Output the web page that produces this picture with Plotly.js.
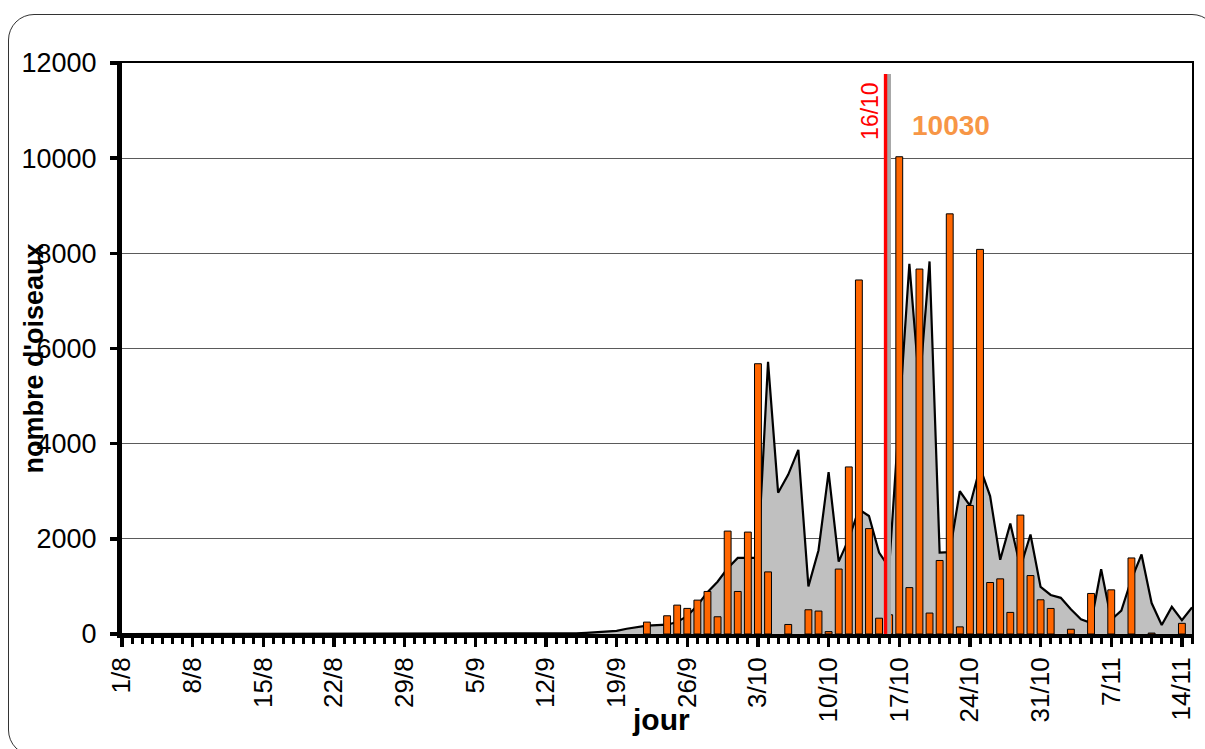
<!DOCTYPE html>
<html>
<head>
<meta charset="utf-8">
<script src="https://cdn.plot.ly/plotly-3.0.1.min.js"></script>
<style>
  html, body { margin: 0; padding: 0; background: #fff; overflow: hidden; }
  #wrap { position: relative; width: 1205px; height: 749px; overflow: hidden; }
  #frame { position: absolute; left: 8px; top: 14px; width: 1208px; height: 740px;
           border: 1.5px solid #333; border-radius: 26px; pointer-events: none; }
  #chart { position: absolute; left: 0; top: 0; width: 1205px; height: 749px; }
</style>
</head>
<body>
<div id="wrap">
  <div id="chart"></div>
  <div id="frame"></div>
</div>
<script>
// ---- data ----
const seasonStart = '2011-08-01';
const seasonEnd = '2011-11-15';
const weekTicks = ['1/8','8/8','15/8','22/8','29/8','5/9','12/9','19/9','26/9','3/10','10/10','17/10','24/10','31/10','7/11','14/11'];

// daily counts (bars)
const countDates = ['2011-09-22','2011-09-24','2011-09-25','2011-09-26','2011-09-27','2011-09-28','2011-09-29','2011-09-30',
  '2011-10-01','2011-10-02','2011-10-03','2011-10-04','2011-10-06','2011-10-08','2011-10-09','2011-10-10','2011-10-11',
  '2011-10-12','2011-10-13','2011-10-14','2011-10-15','2011-10-16','2011-10-17','2011-10-18','2011-10-19','2011-10-20',
  '2011-10-21','2011-10-22','2011-10-23','2011-10-24','2011-10-25','2011-10-26','2011-10-27','2011-10-28','2011-10-29',
  '2011-10-30','2011-10-31','2011-11-01','2011-11-03','2011-11-05','2011-11-07','2011-11-09','2011-11-11','2011-11-14'];
const countValues = [250, 383, 607, 538, 712, 894, 362, 2163,
  894, 2142, 5680, 1305, 200, 509, 482, 50, 1365,
  3511, 7440, 2215, 332, 404, 10030, 975, 7670, 440,
  1545, 8830, 150, 2701, 8083, 1082, 1159, 454, 2499,
  1228, 719, 537, 100, 852, 928, 1598, 20, 224];

// reference curve (grey area), one value per day from 1/8 to 15/11
const referenceValues = [
  0,0,0,0,0,0,0,0,0,0, 0,0,0,0,0,0,0,0,0,0,
  0,0,0,0,0,0,0,0,0,0, 0,0,0,0,0,0,0,0,0,0,
  0,0,0,0,5,15,25,40,55,65, 110,150,175,185,195,250,380,600,880,1100,
  1380,1600,1600,1600,5720,2970,3350,3870,1000,1760, 3400,1520,2000,2620,2480,1710,1400,4550,7780,5200,
  7830,1710,1720,3000,2700,3500,2900,1560,2320,1400, 2090,990,820,760,520,310,230,1360,300,490,
  1150,1670,650,190,570,290,560];

const markerDate = '2011-10-16';
const markerLabel = '16/10';
const peakLabel = '10030';
const xTitle = 'jour';
const yTitle = "nombre d'oiseaux";

// ---- build ----
function dayList(start, n) {
  const base = new Date(start + 'T00:00:00Z').getTime();
  const out = [];
  for (let i = 0; i < n; i++) out.push(new Date(base + i * 86400000).toISOString().slice(0, 10));
  return out;
}
const referenceDates = dayList(seasonStart, referenceValues.length);
const DAY = 86400000;
const FONT = 'Liberation Sans, Arial, sans-serif';

const traces = [
  {
    type: 'scatter', mode: 'lines', x: referenceDates, y: referenceValues,
    fill: 'tozeroy', fillcolor: '#C0C0C0',
    line: { color: '#000', width: 2.2 }, xaxis: 'x', yaxis: 'y', hoverinfo: 'skip'
  },
  {
    type: 'bar', x: countDates, y: countValues, width: 0.68 * DAY,
    marker: { color: '#FF6600', line: { color: '#000', width: 1 } },
    xaxis: 'x2', yaxis: 'y2', hoverinfo: 'skip'
  }
];

const mShift = new Date(new Date(markerDate + 'T00:00:00Z').getTime() - 0.36 * DAY).toISOString();
const mShadow = new Date(new Date(markerDate + 'T00:00:00Z').getTime() - 0.02 * DAY).toISOString();

const layout = {
  width: 1205, height: 749,
  margin: { l: 122, r: 13, t: 63, b: 115, pad: 0 },
  paper_bgcolor: 'rgba(0,0,0,0)', plot_bgcolor: '#fff',
  showlegend: false, hovermode: false,
  font: { family: FONT, color: '#000' },
  xaxis: {
    type: 'date', range: [seasonStart, seasonEnd],
    tick0: seasonStart, dtick: 7 * DAY, tickformat: '%-d/%-m',
    tickangle: -90, tickfont: { size: 26, family: FONT, color: '#000' },
    ticks: 'outside', ticklen: 9, tickwidth: 3.5, tickcolor: '#000',
    minor: { dtick: DAY, ticks: 'outside', ticklen: 6, tickwidth: 3, tickcolor: '#000', showgrid: false },
    showline: true, linewidth: 4, linecolor: '#000',
    showgrid: false, zeroline: false, layer: 'above traces', fixedrange: true
  },
  yaxis: {
    range: [0, 12000], dtick: 2000, tick0: 0, tickformat: 'd',
    tickfont: { size: 27, family: FONT, color: '#000' },
    ticks: 'outside', ticklen: 7, tickwidth: 3.5, tickcolor: '#000',
    ticklabelstandoff: 8,
    showline: true, linewidth: 5, linecolor: '#000',
    showgrid: true, gridcolor: '#5a5a5a', gridwidth: 1,
    zeroline: false, layer: 'above traces', fixedrange: true
  },
  xaxis2: {
    type: 'date', range: [seasonStart, seasonEnd], overlaying: 'x', side: 'top',
    showline: true, linewidth: 2, linecolor: '#000',
    ticks: '', showticklabels: false, showgrid: false, zeroline: false, fixedrange: true
  },
  yaxis2: {
    range: [0, 12000], overlaying: 'y', side: 'right',
    showline: true, linewidth: 2, linecolor: '#000',
    ticks: '', showticklabels: false, showgrid: false, zeroline: false, fixedrange: true
  },
  shapes: [
    { type: 'line', xref: 'x', yref: 'y', x0: mShadow, x1: mShadow, y0: 0, y1: 11770,
      line: { color: '#A6A6A6', width: 4 }, layer: 'above' },
    { type: 'line', xref: 'x', yref: 'y', x0: mShift, x1: mShift, y0: 0, y1: 11770,
      line: { color: '#FF0000', width: 3.4 }, layer: 'above' }
  ],
  annotations: [
    { text: markerLabel, xref: 'paper', yref: 'paper', x: 0.699, y: 0.916,
      xanchor: 'center', yanchor: 'middle', textangle: -90, showarrow: false,
      font: { size: 23, color: '#FF0000', family: FONT } },
    { text: '<b>' + peakLabel + '</b>', xref: 'paper', yref: 'paper', x: 0.7743, y: 0.8905,
      xanchor: 'center', yanchor: 'middle', showarrow: false,
      font: { size: 28, color: '#F79646', family: FONT } },
    { text: '<b>' + yTitle + '</b>', xref: 'paper', yref: 'paper', x: -0.0827, y: 0.4816,
      xanchor: 'center', yanchor: 'middle', textangle: -90, showarrow: false,
      font: { size: 27, color: '#000', family: FONT } },
    { text: '<b>' + xTitle + '</b>', xref: 'paper', yref: 'paper', x: 0.5042, y: -0.1506,
      xanchor: 'center', yanchor: 'middle', showarrow: false,
      font: { size: 30, color: '#000', family: FONT } }
  ]
};

Plotly.newPlot('chart', traces, layout, { staticPlot: true, displayModeBar: false });
</script>
</body>
</html>
